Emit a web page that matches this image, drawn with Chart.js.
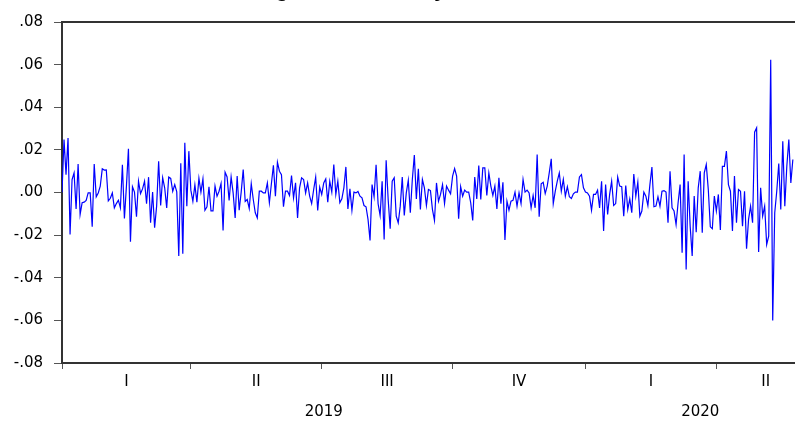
<!DOCTYPE html>
<html><head><meta charset="utf-8">
<script src="https://cdn.jsdelivr.net/npm/chart.js@4"></script>
<style>
html,body{margin:0;padding:0;background:#fff;overflow:hidden;width:795px;height:421px}
#wrap{width:795px;height:421px;overflow:hidden;position:relative}
canvas{display:block}
</style></head>
<body><div id="wrap"><canvas id="c" width="817" height="421"></canvas></div>
<script>
// Daily log returns
const returns = [
0, .0248, .0084, .0256, -.0197, .0061, .0092, -.0077, .0134, -.0103,
-.0048, -.0045, -.0037, -.0002, -.0002, -.0161, .0134, -.0020, -.0002, .0030,
.0111, .0105, .0106, -.0039, -.0027, -.0002, -.0072, -.0052, -.0036, -.0072,
.0130, -.0122, .0030, .0205, -.0231, .0027, .0002, -.0114, .0053, -.0005,
.0017, .0053, -.0052, .0072, -.0142, .0002, -.0165, -.0064, .0147, -.0061,
.0069, .0022, -.0072, .0072, .0066, .0006, .0037, .0003, -.0298, .0137,
-.0287, .0233, -.0064, .0194, .0011, -.0041, .0036, -.0045, .0067, .0002,
.0064, -.0083, -.0067, .0027, -.0086, -.0086, .0030, -.0017, .0006, .0042,
-.0178, .0095, .0073, -.0037, .0073, -.0002, -.0119, .0077, -.0083, .0002,
.0108, -.0042, -.0033, -.0075, .0041, -.0033, -.0095, -.0119, .0006, .0006,
-.0002, -.0002, .0045, -.0048, .0041, .0128, -.0017, .0142, .0100, .0084,
-.0067, .0006, .0006, -.0014, .0080, -.0025, .0045, -.0119, .0022, .0069,
.0061, -.0002, .0045, -.0017, -.0052, .0014, .0072, -.0084, .0025, -.0009,
.0045, .0064, -.0045, .0053, .0002, .0131, -.0009, .0053, -.0048, -.0030,
.0022, .0120, -.0077, .0017, -.0084, .0002, -.0002, .0005, -.0017, -.0025,
-.0061, -.0067, -.0126, -.0225, .0037, -.0020, .0130, -.0053, -.0108, .0053,
-.0220, .0151, -.0033, -.0170, .0053, .0069, -.0111, -.0142, -.0064, .0072,
-.0108, -.0002, .0058, -.0095, .0061, .0176, -.0030, .0111, -.0080, .0061,
.0022, -.0061, .0014, .0009, -.0080, -.0131, .0045, -.0041, -.0009, .0037,
-.0052, .0030, .0011, -.0006, .0077, .0112, .0077, -.0123, .0027, -.0017,
.0011, .0002, .0002, -.0048, -.0131, .0073, -.0030, .0126, -.0033, .0116,
.0116, -.0014, .0092, .0030, -.0014, .0030, -.0077, .0069, -.0052, .0048,
-.0223, -.0041, -.0083, -.0041, -.0037, .0002, -.0064, -.0002, -.0052, .0061,
.0002, .0011, -.0002, -.0072, -.0014, -.0072, .0178, -.0114, .0041, .0048, -.0005,
.0030, .0092, .0158, -.0052, .0006, .0053, .0092, .0006, .0061, -.0017,
.0027, -.0020, -.0028, -.0006, .0002, .0002, .0073, .0084, .0022, .0002,
-.0002, -.0017, -.0083, -.0009, -.0009, .0011, -.0072, .0053, -.0181, .0037,
-.0103, -.0009, .0053, -.0061, -.0052, .0072, .0030, .0027, -.0111, .0033,
-.0080, -.0030, -.0095, .0087, -.0017, .0048, -.0111, -.0087, .0002, -.0017,
-.0061, .0037, .0119, -.0067, -.0064, -.0020, -.0064, .0006, .0009, .0002, -.0142,
.0100, -.0072, -.0087, -.0150, -.0048, .0037, -.0283, .0178, -.0361, .0053,
-.0158, -.0298, -.0017, -.0186, .0022, .0100, -.0189, .0092, .0131, .0014,
-.0161, -.0170, -.0017, -.0087, -.0009, -.0176, .0123, .0123, .0194, .0037,
.0006, -.0181, .0077, -.0142, .0014, .0006, -.0158, .0006, -.0264, -.0126,
-.0064, -.0142, .0283, .0303, -.0279, .0022, -.0111, -.0064, -.0244, -.0205,
.0623, -.0600, -.0095, .0006, .0136, -.0080, .0240, -.0064, .0123, .0248, .0045, .0155
];
// Observation index at which each quarter starts, and end of the plotted frame
const quarterStarts = [0, 64, 129, 194, 260, 325];
const frameEnd = 374;
const quarterLabels = ['I', 'II', 'III', 'IV', 'I', 'II'];
const yearStarts = [0, 260];
const yearLabels = ['2019', '2020'];
const yTickValues = [-0.08, -0.06, -0.04, -0.02, 0, 0.02, 0.04, 0.06, 0.08];
const yTickLabels = ['-.08', '-.06', '-.04', '-.02', '.00', '.02', '.04', '.06', '.08'];
const titleText = 'Log returns of daily KOSPI_R';

const quarterMids = quarterStarts.map((s, i) => (s + (i + 1 < quarterStarts.length ? quarterStarts[i + 1] : frameEnd)) / 2);
const yearMids = yearStarts.map((s, i) => (s + (i + 1 < yearStarts.length ? yearStarts[i + 1] : frameEnd)) / 2);

const FONT = {family: '"DejaVu Sans", sans-serif', size: 15};
const AXIS = '#333333';

const titlePlugin = {
  id: 'cutTitle',
  afterDraw(chart) {
    const ctx = chart.ctx;
    ctx.save();
    ctx.font = 'bold 21px "Liberation Sans", Arial, sans-serif';
    ctx.fillStyle = '#000';
    ctx.textAlign = 'left';
    ctx.textBaseline = 'alphabetic';
    ctx.fillText(titleText, 250, -3);
    ctx.restore();
  }
};

new Chart(document.getElementById('c'), {
  type: 'line',
  data: {
    datasets: [{
      data: returns.map((v, i) => ({x: i, y: v})),
      borderColor: '#0000ff',
      borderWidth: 1.2,
      pointRadius: 0,
      tension: 0,
      fill: false,
      xAxisID: 'x',
      yAxisID: 'y'
    }]
  },
  options: {
    responsive: false,
    animation: false,
    events: [],
    layout: {padding: {left: 0, right: 2, top: 0, bottom: 0}},
    plugins: {legend: {display: false}, tooltip: {enabled: false}, title: {display: false}},
    scales: {
      y: {
        type: 'linear', position: 'left', min: -0.08, max: 0.08,
        afterBuildTicks: s => { s.ticks = yTickValues.map(v => ({value: v})); },
        afterFit: s => { s.width = 62; },
        ticks: {font: FONT, color: '#000', padding: 11,
          callback: (v, i) => yTickLabels[i]},
        grid: {drawOnChartArea: false, drawTicks: true, tickLength: 8, color: '#555', lineWidth: 1},
        border: {display: true, color: AXIS, width: 2}
      },
      xTop: {
        type: 'linear', position: 'top', min: 0, max: frameEnd,
        afterFit: s => { s.height = 22; },
        ticks: {display: false},
        grid: {display: false},
        border: {display: true, color: AXIS, width: 2}
      },
      x: {
        type: 'linear', position: 'bottom', min: 0, max: frameEnd, weight: 0,
        afterBuildTicks: s => { s.ticks = quarterStarts.map(v => ({value: v})); },
        afterFit: s => { s.height = 8; },
        ticks: {display: false},
        grid: {drawOnChartArea: false, drawTicks: true, tickLength: 6, color: '#555', lineWidth: 1},
        border: {display: true, color: AXIS, width: 2}
      },
      xq: {
        type: 'linear', position: 'bottom', min: 0, max: frameEnd, weight: 1,
        afterBuildTicks: s => { s.ticks = quarterMids.map(v => ({value: v})); },
        afterFit: s => { s.height = 22; },
        ticks: {font: FONT, color: '#000', padding: 2, autoSkip: false, maxRotation: 0,
          callback: (v, i) => quarterLabels[i]},
        grid: {display: false, drawTicks: false},
        border: {display: false}
      },
      xy: {
        type: 'linear', position: 'bottom', min: 0, max: frameEnd, weight: 2,
        afterBuildTicks: s => { s.ticks = yearMids.map(v => ({value: v})); },
        afterFit: s => { s.height = 28; },
        ticks: {font: FONT, color: '#000', padding: 10, autoSkip: false, maxRotation: 0,
          callback: (v, i) => yearLabels[i]},
        grid: {display: false, drawTicks: false},
        border: {display: false}
      }
    }
  },
  plugins: [titlePlugin]
});
</script>
</body></html>
